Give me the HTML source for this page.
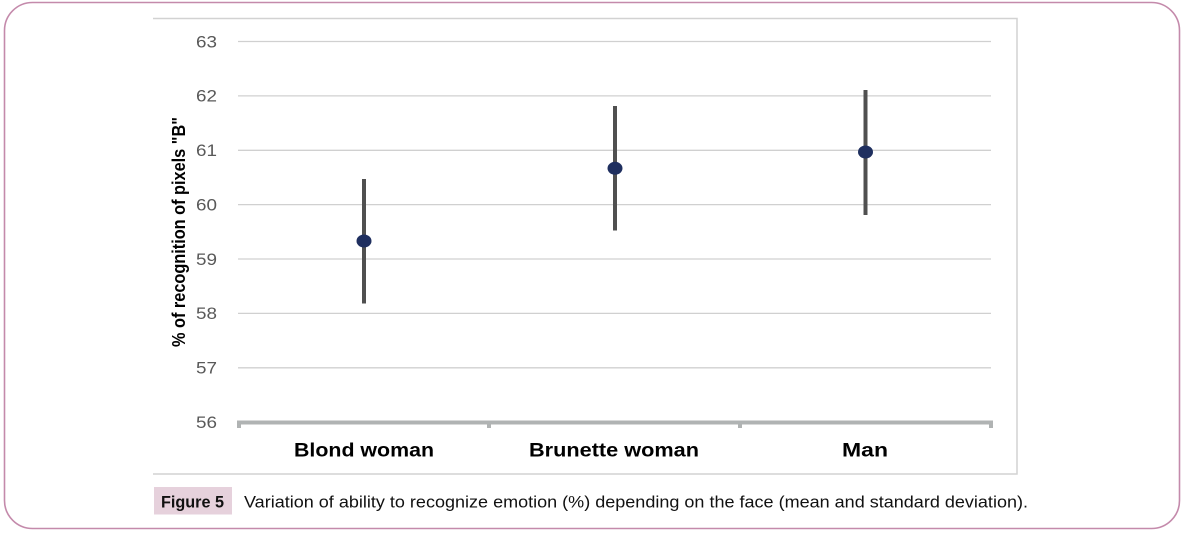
<!DOCTYPE html>
<html><head><meta charset="utf-8"><style>
html,body{margin:0;padding:0;background:#fff;}
svg{display:block;}
text{font-family:"Liberation Sans",sans-serif;}
</style></head><body>
<svg width="1186" height="535" viewBox="0 0 1186 535" xmlns="http://www.w3.org/2000/svg">
<rect x="4.5" y="2.5" width="1175" height="526" rx="28" ry="28" fill="#fff" stroke="#c48aab" stroke-width="1.6"/>
<!-- chart frame -->
<path d="M153 18.5 H1017 V474 H153" fill="none" stroke="#d2d2d2" stroke-width="1.5"/>
<!-- gridlines -->
<g stroke="#d0d0d0" stroke-width="1.3">
<line x1="238" y1="41.5" x2="991" y2="41.5"/>
<line x1="238" y1="95.9" x2="991" y2="95.9"/>
<line x1="238" y1="150.3" x2="991" y2="150.3"/>
<line x1="238" y1="204.6" x2="991" y2="204.6"/>
<line x1="238" y1="259" x2="991" y2="259"/>
<line x1="238" y1="313.4" x2="991" y2="313.4"/>
<line x1="238" y1="367.8" x2="991" y2="367.8"/>
</g>
<!-- axis -->
<g stroke="#b0b3b3" stroke-width="4">
<line x1="237" y1="422.5" x2="993" y2="422.5"/>
<line x1="239" y1="421" x2="239" y2="428"/>
<line x1="489" y1="421" x2="489" y2="428"/>
<line x1="740" y1="421" x2="740" y2="428"/>
<line x1="991" y1="421" x2="991" y2="428"/>
</g>
<!-- y labels -->
<g fill="#595959" font-size="17" text-anchor="end">
<text x="217" y="47.3" textLength="21" lengthAdjust="spacingAndGlyphs">63</text>
<text x="217" y="101.7" textLength="21" lengthAdjust="spacingAndGlyphs">62</text>
<text x="217" y="156.1" textLength="21" lengthAdjust="spacingAndGlyphs">61</text>
<text x="217" y="210.4" textLength="21" lengthAdjust="spacingAndGlyphs">60</text>
<text x="217" y="264.8" textLength="21" lengthAdjust="spacingAndGlyphs">59</text>
<text x="217" y="319.2" textLength="21" lengthAdjust="spacingAndGlyphs">58</text>
<text x="217" y="373.6" textLength="21" lengthAdjust="spacingAndGlyphs">57</text>
<text x="217" y="428" textLength="21" lengthAdjust="spacingAndGlyphs">56</text>
</g>
<!-- y title -->
<text transform="translate(185,347) rotate(-90)" font-size="18" font-weight="bold" fill="#000" textLength="230" lengthAdjust="spacingAndGlyphs">% of recognition of pixels "B"</text>
<!-- error bars -->
<g stroke="#505050" stroke-width="4">
<line x1="364" y1="179" x2="364" y2="303.5"/>
<line x1="615" y1="106" x2="615" y2="230.5"/>
<line x1="865.5" y1="90" x2="865.5" y2="215"/>
</g>
<g fill="#1f2f5f">
<ellipse cx="364" cy="241" rx="7.5" ry="6.5"/>
<ellipse cx="615" cy="168.3" rx="7.5" ry="6.5"/>
<ellipse cx="865.5" cy="152" rx="7.5" ry="6.5"/>
</g>
<!-- categories -->
<g font-size="19" font-weight="bold" fill="#000">
<text x="294" y="456.5" textLength="140" lengthAdjust="spacingAndGlyphs">Blond woman</text>
<text x="529" y="456.5" textLength="170" lengthAdjust="spacingAndGlyphs">Brunette woman</text>
<text x="842" y="456.5" textLength="46" lengthAdjust="spacingAndGlyphs">Man</text>
</g>
<!-- caption -->
<rect x="154" y="487" width="78" height="27.5" fill="#e6d1dc"/>
<text x="161" y="507.3" font-size="17" font-weight="bold" fill="#111" textLength="63" lengthAdjust="spacingAndGlyphs">Figure 5</text>
<text x="244" y="507.3" font-size="17" fill="#111" textLength="784" lengthAdjust="spacingAndGlyphs">Variation of ability to recognize emotion (%) depending on the face (mean and standard deviation).</text>
</svg>
</body></html>
